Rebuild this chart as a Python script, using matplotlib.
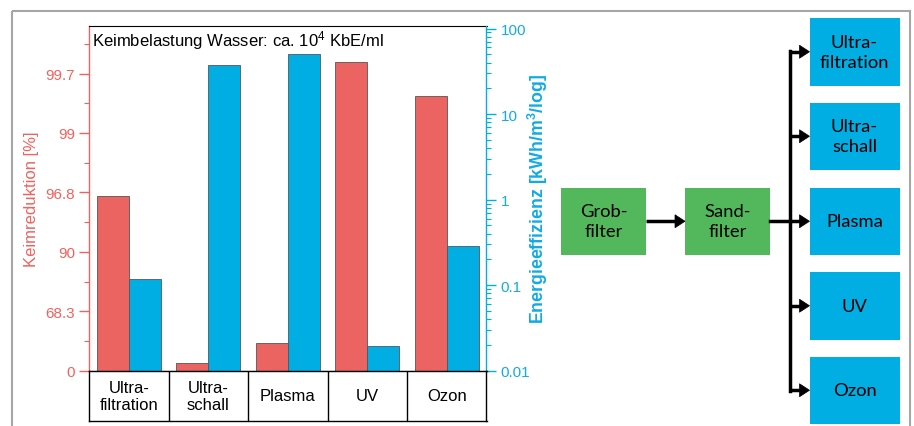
import matplotlib
matplotlib.use("Agg")
import matplotlib.pyplot as plt
from matplotlib.patches import Rectangle, Polygon
from matplotlib.ticker import FixedLocator, LogLocator, NullFormatter
import numpy as np

plt.rcParams['font.family'] = ['Liberation Sans', 'DejaVu Sans']
plt.rcParams['mathtext.default'] = 'regular'

# ---- data ----
categories = ['Ultra-\nfiltration', 'Ultra-\nschall', 'Plasma', 'UV', 'Ozon']
log_reduction = [1.47, 0.065, 0.235, 2.60, 2.31]        # in log units (left axis)
energy = [0.118, 37.3, 50.0, 0.0196, 0.29]              # kWh/m3/log (right axis)
left_tick_pos = [0, 0.5, 1.0, 1.5, 2.0, 2.5]
left_tick_labels = ['0', '68.3', '90', '96.8', '99', '99.7']
right_ticks = [0.01, 0.1, 1, 10, 100]
right_tick_labels = ['0.01', '0.1', '1', '10', '100']
flow_pre = ['Grob-\nfilter', 'Sand-\nfilter']
flow_methods = ['Ultra-\nfiltration', 'Ultra-\nschall', 'Plasma', 'UV', 'Ozon']

RED = '#EC6461'
BLUE = '#00AEE4'
RED_TXT = '#F0625E'
BLUE_TXT = '#12ABE3'
GREEN = '#52B85B'

W, H = 914, 427
fig = plt.figure(figsize=(W / 100, H / 100), dpi=100)

def fx(x):
    return x / W

def fy(y):
    return 1 - y / H

# ---- main axes ----
ax_l, ax_r, ax_t, ax_b = 89, 486.5, 27, 371.7
ax = fig.add_axes([fx(ax_l), fy(ax_b), fx(ax_r - ax_l), fy(ax_t) - fy(ax_b)])
x = np.arange(1, len(categories) + 1)
bw = 0.40
ax.bar(x - bw / 2, log_reduction, width=bw, color=RED, edgecolor='#555555', linewidth=0.6, zorder=2)
ax.set_xlim(0.5, len(categories) + 0.5)
ax.set_ylim(0, 2.9)
ax.yaxis.set_major_locator(FixedLocator(left_tick_pos))
ax.set_yticklabels(left_tick_labels)
ax.yaxis.set_minor_locator(FixedLocator([0.25, 0.75, 1.25, 1.75, 2.25, 2.75]))
ax.tick_params(axis='y', which='major', colors=RED, labelcolor=RED_TXT, labelsize=11, length=7, width=1, direction='out', pad=3)
ax.tick_params(axis='y', which='minor', colors=RED, length=3.5, width=0.8, direction='out')
ax.set_xticks([])
ax.spines['left'].set_color(RED)
ax.spines['left'].set_linewidth(1.0)
ax.spines['top'].set_color('black')
ax.spines['bottom'].set_color('black')
ax.spines['right'].set_visible(False)
ax.set_ylabel('Keimreduktion [%]', color=RED_TXT, fontsize=12, ha='center', va='center')
ax.yaxis.set_label_coords((31.5 - ax_l) / (ax_r - ax_l), 0.5)
ax.text(0.008, 0.96, 'Keimbelastung Wasser: ca. 10$^{4}$ KbE/ml', transform=ax.transAxes,
        ha='left', va='center', fontsize=12, color='black')

ax2 = ax.twinx()
ax2.bar(x + bw / 2, energy, width=bw, color=BLUE, edgecolor='#555555', linewidth=0.6, zorder=2)
ax2.set_yscale('log')
ax2.set_ylim(0.01, 107)
ax2.set_yticks(right_ticks)
ax2.set_yticklabels(right_tick_labels)
ax2.yaxis.set_minor_locator(LogLocator(base=10, subs=np.arange(2, 10)))
ax2.yaxis.set_minor_formatter(NullFormatter())
ax2.tick_params(axis='y', which='major', colors=BLUE, labelcolor=BLUE_TXT, labelsize=11, length=7, width=1, direction='out', pad=3)
ax2.tick_params(axis='y', which='minor', colors=BLUE, length=3.5, width=0.8, direction='out')
for s in ['left', 'top', 'bottom']:
    ax2.spines[s].set_visible(False)
ax2.spines['right'].set_color(BLUE)
ax2.spines['right'].set_linewidth(1.0)
ax2.set_ylabel('Energieeffizienz [kWh/m$^{3}$/log]', color=BLUE_TXT, fontsize=12.8, fontweight='bold',
               ha='center', va='center')
ax2.yaxis.set_label_coords((537.5 - ax_l) / (ax_r - ax_l), 0.5)

# ---- category table under axes ----
tb_b = 422
axt = fig.add_axes([fx(ax_l), fy(tb_b), fx(ax_r - ax_l), fy(ax_b) - fy(tb_b)])
axt.set_xlim(ax.get_xlim())
axt.set_ylim(0, 1)
axt.set_xticks([])
axt.set_yticks([])
for s in axt.spines.values():
    s.set_color('black')
    s.set_linewidth(1.0)
for i, c in enumerate(categories):
    axt.text(x[i], 0.5, c, ha='center', va='center', fontsize=12, linespacing=1.2)
    if i > 0:
        axt.axvline(x[i] - 0.5, color='black', linewidth=1.0)

# ---- overlay for flowchart and outer frame ----
ov = fig.add_axes([0, 0, 1, 1], zorder=-1)
ov.set_xlim(0, W)
ov.set_ylim(H, 0)
ov.axis('off')
ov.add_patch(Rectangle((12, 12), 898, 440, fill=False, edgecolor='#A6A6A6', linewidth=1.5, clip_on=False))

ov2 = fig.add_axes([0, 0, 1, 1], zorder=5)
ov2.set_xlim(0, W)
ov2.set_ylim(H, 0)
ov2.axis('off')
ffont = dict(family=['Lato', 'DejaVu Sans'], fontsize=13.2, ha='center', va='center', linespacing=1.3)

# green boxes
gy0, gy1 = 188.5, 256
gboxes = [(561, 646), (685, 770)]
for (x0, x1), lab in zip(gboxes, flow_pre):
    ov2.add_patch(Rectangle((x0, gy0), x1 - x0, gy1 - gy0, facecolor=GREEN, edgecolor='none'))
    ov2.text((x0 + x1) / 2, (gy0 + gy1) / 2, lab, **ffont)

# blue boxes
bx0, bx1 = 809.5, 899.5
bys = [(19, 86.5), (103.5, 171), (188.5, 256), (273, 340.5), (357.5, 425)]
for (y0, y1), lab in zip(bys, flow_methods):
    ov2.add_patch(Rectangle((bx0, y0), bx1 - bx0, y1 - y0, facecolor=BLUE, edgecolor='none'))
    ov2.text((bx0 + bx1) / 2, (y0 + y1) / 2, lab, **ffont)

def arrow(xs, xe, y):
    ov2.plot([xs, xe - 9], [y, y], color='black', linewidth=2.5, solid_capstyle='butt')
    ov2.add_patch(Polygon([[xe - 10, y - 6.5], [xe, y], [xe - 10, y + 6.5]], closed=True,
                          facecolor='black', edgecolor='black', linewidth=0.5))

ymid = (gy0 + gy1) / 2
arrow(646, 685, ymid)
vx = 789.5
ov2.plot([770, vx], [ymid, ymid], color='black', linewidth=2.5)
centers = [(a + b) / 2 for a, b in bys]
ov2.plot([vx, vx], [centers[0] - 1, centers[-1] + 1], color='black', linewidth=2.5)
for cy in centers:
    arrow(vx, bx0, cy)

fig.savefig('out.png', dpi=100)
